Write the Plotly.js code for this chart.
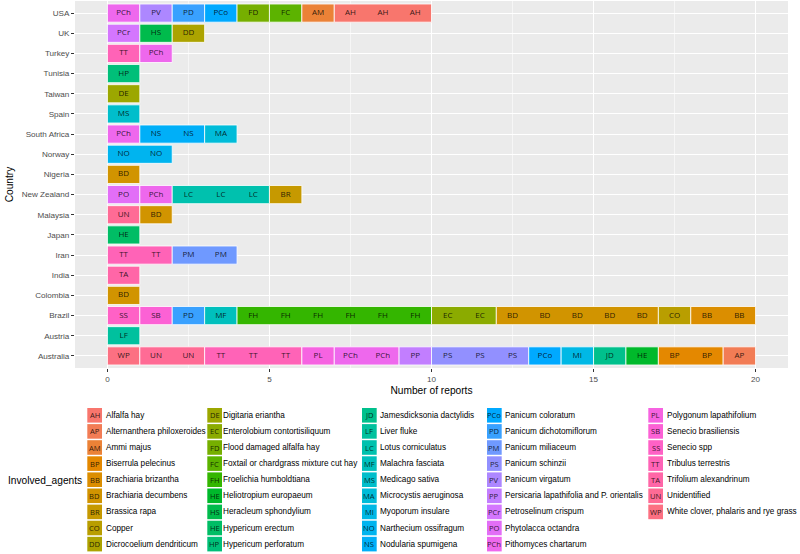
<!DOCTYPE html>
<html>
<head>
<meta charset="utf-8">
<script src="https://cdn.plot.ly/plotly-3.0.1.min.js"></script>
<style>html,body{margin:0;padding:0;background:#fff;}#chart{width:800px;height:554px;}</style>
</head>
<body>
<div id="chart"></div>
<script>
// ---- Data ----
const agentKeys = ['AH','AP','AM','BP','BB','BD','BR','CO','DD',
  'DE','EC','FD','FC','FH','HEu','HS','HEr','HP',
  'JD','LF','LC','MF','MS','MA','MI','NO','NS',
  'PCo','PD','PM','PS','PV','PP','PCr','PO','PCh',
  'PL','SB','SS','TT','TA','UN','WP'];
const agentAbbr = ['AH','AP','AM','BP','BB','BD','BR','CO','DD',
  'DE','EC','FD','FC','FH','HE','HS','HE','HP',
  'JD','LF','LC','MF','MS','MA','MI','NO','NS',
  'PCo','PD','PM','PS','PV','PP','PCr','PO','PCh',
  'PL','SB','SS','TT','TA','UN','WP'];
const agentNames = ['Alfalfa hay','Alternanthera philoxeroides','Ammi majus','Biserrula pelecinus','Brachiaria brizantha','Brachiaria decumbens','Brassica rapa','Copper','Dicrocoelium dendriticum',
  'Digitaria eriantha','Enterolobium contortisiliquum','Flood damaged alfalfa hay','Foxtail or chardgrass mixture cut hay','Froelichia humboldtiana','Heliotropium europaeum','Heracleum sphondylium','Hypericum erectum','Hypericum perforatum',
  'Jamesdicksonia dactylidis','Liver fluke','Lotus corniculatus','Malachra fasciata','Medicago sativa','Microcystis aeruginosa','Myoporum insulare','Narthecium ossifragum','Nodularia spumigena',
  'Panicum coloratum','Panicum dichotomiflorum','Panicum miliaceum','Panicum schinzii','Panicum virgatum','Persicaria lapathifolia and P. orientalis','Petroselinum crispum','Phytolacca octandra','Pithomyces chartarum',
  'Polygonum lapathifolium','Senecio brasiliensis','Senecio spp','Tribulus terrestris','Trifolium alexandrinum','Unidentified','White clover, phalaris and rye grass'];

// countries bottom -> top
const countries = ['Australia','Austria','Brazil','Colombia','India','Iran','Japan','Malaysia','New Zealand','Nigeria','Norway','South Africa','Spain','Taiwan','Tunisia','Turkey','UK','USA'];
// one entry per report, left to right, aligned with countries
const reports = [
  ['WP','UN','UN','TT','TT','TT','PL','PCh','PCh','PP','PS','PS','PS','PCo','MI','JD','HEu','BP','BP','AP'],
  ['LF'],
  ['SS','SB','PD','MF','FH','FH','FH','FH','FH','FH','EC','EC','BD','BD','BD','BD','BD','CO','BB','BB'],
  ['BD'],
  ['TA'],
  ['TT','TT','PM','PM'],
  ['HEr'],
  ['UN','BD'],
  ['PO','PCh','LC','LC','LC','BR'],
  ['BD'],
  ['NO','NO'],
  ['PCh','NS','NS','MA'],
  ['MS'],
  ['DE'],
  ['HP'],
  ['TT','PCh'],
  ['PCr','HS','DD'],
  ['PCh','PV','PD','PCo','FD','FC','AM','AH','AH','AH']
];
const xTicks = [0,5,10,15,20];

// ---- Styling helpers ----
function hcl2hex(h, c, l) {
  const hr = h * Math.PI / 180;
  const U = c * Math.cos(hr), V = c * Math.sin(hr);
  const Xn = 0.95047, Yn = 1.0, Zn = 1.08883;
  const Y = l > 8 ? Math.pow((l + 16) / 116, 3) : l / 903.3;
  const den = Xn + 15 * Yn + 3 * Zn;
  const un = 4 * Xn / den, vn = 9 * Yn / den;
  const u = U / (13 * l) + un, v = V / (13 * l) + vn;
  const X = 9 * Y * u / (4 * v);
  const Z = -X / 3 - 5 * Y + 3 * Y / v;
  let r = 3.240479 * X - 1.537150 * Y - 0.498535 * Z;
  let g = -0.969256 * X + 1.875992 * Y + 0.041556 * Z;
  let b = 0.055648 * X - 0.204043 * Y + 1.057311 * Z;
  const gam = t => { t = t <= 0.0031308 ? 12.92 * t : 1.055 * Math.pow(t, 1 / 2.4) - 0.055; return Math.round(Math.max(0, Math.min(1, t)) * 255); };
  return '#' + [gam(r), gam(g), gam(b)].map(n => n.toString(16).padStart(2, '0')).join('');
}
const nAg = agentKeys.length;
const agentColors = agentKeys.map((k, i) => hcl2hex(15 + 360 * i / nAg, 100, 65));
const colorOf = k => agentColors[agentKeys.indexOf(k)];
const abbrOf = k => agentAbbr[agentKeys.indexOf(k)];

// ---- Build runs and labels ----
const runY = [], runX = [], runBase = [], runCol = [];
const labX = [], labY = [], labT = [];
countries.forEach((c, ci) => {
  const list = reports[ci];
  let i = 0;
  while (i < list.length) {
    let j = i;
    while (j < list.length && list[j] === list[i]) j++;
    runY.push(c); runX.push(j - i); runBase.push(i); runCol.push(colorOf(list[i]));
    i = j;
  }
  list.forEach((k, u) => { labX.push(u + 0.5); labY.push(c); labT.push(abbrOf(k)); });
});

const FONT = 'Liberation Sans, Arial, Helvetica, sans-serif';
const LABFONT = 'Open Sans, sans-serif';
const LABCOL = 'rgba(0,0,0,0.8)';
const M = {l: 75, r: 12, t: 1, b: 186};
const W = 800, H = 554;
const pw = W - M.l - M.r, ph = H - M.t - M.b;
const px = x => (x - M.l) / pw;
const py = y => 1 - (y - M.t) / ph;

const traces = [
  {
    type: 'bar', orientation: 'h', y: runY, x: runX, base: runBase, width: 0.9,
    marker: {color: runCol, line: {color: '#ffffff', width: 0.8}},
    hoverinfo: 'skip', showlegend: false
  },
  {
    type: 'scatter', mode: 'text', x: labX, y: labY, text: labT,
    textposition: 'middle center',
    textfont: {family: LABFONT, size: 8, color: LABCOL},
    hoverinfo: 'skip', showlegend: false, cliponaxis: false
  }
];

// ---- Manual legend ----
const shapes = [], annotations = [];
const colKeyX = [87.3, 207.3, 362, 487, 648.3];
const colTxtX = [104.5, 222.3, 378.8, 503.8, 665.5];
const row0 = 415.3, rowStep = 16.1, perCol = 9;
agentKeys.forEach((k, i) => {
  const col = Math.floor(i / perCol), row = i % perCol;
  const cy = row0 + row * rowStep;
  const kx = colKeyX[col];
  shapes.push({type: 'rect', xref: 'paper', yref: 'paper',
    x0: px(kx), x1: px(kx + 14.7), y0: py(cy + 7.3), y1: py(cy - 7.3),
    fillcolor: agentColors[i], line: {width: 0}, layer: 'above'});
  annotations.push({xref: 'paper', yref: 'paper', x: px(kx + 7.35), y: py(cy),
    xanchor: 'center', yanchor: 'middle', showarrow: false, text: agentAbbr[i],
    font: {family: LABFONT, size: 7.6, color: LABCOL}});
  annotations.push({xref: 'paper', yref: 'paper', x: px(colTxtX[col]), y: py(cy),
    xanchor: 'left', yanchor: 'middle', showarrow: false, text: agentNames[i],
    borderpad: 0, font: {family: FONT, size: 8.2, color: '#000000'}});
});
annotations.push({xref: 'paper', yref: 'paper', x: px(7), y: py(480),
  xanchor: 'left', yanchor: 'middle', showarrow: false, text: 'Involved_agents',
  borderpad: 0, font: {family: FONT, size: 10.2, color: '#000000'}});

const layout = {
  width: W, height: H,
  margin: M,
  paper_bgcolor: '#ffffff', plot_bgcolor: '#EBEBEB',
  showlegend: false,
  barmode: 'overlay',
  font: {family: FONT, color: '#000'},
  xaxis: {
    range: [-1, 21], tickmode: 'array', tickvals: xTicks, ticktext: xTicks.map(String),
    showgrid: true, gridcolor: '#ffffff', gridwidth: 1.07, zeroline: false,
    minor: {dtick: 2.5, tick0: 0, showgrid: true, gridcolor: '#ffffff', gridwidth: 0.53, ticklen: 0},
    ticks: 'outside', ticklen: 3, tickwidth: 1, tickcolor: '#333333',
    tickfont: {family: FONT, size: 8.1, color: '#4d4d4d'},
    title: {text: 'Number of reports', font: {family: FONT, size: 10.2, color: '#000'}, standoff: 4},
    showline: false, fixedrange: true
  },
  yaxis: {
    type: 'category', categoryorder: 'array', categoryarray: countries,
    range: [-0.6, countries.length - 0.4],
    showgrid: true, gridcolor: '#ffffff', gridwidth: 1.07, zeroline: false,
    ticks: 'outside', ticklen: 3, tickwidth: 1, tickcolor: '#333333',
    tickfont: {family: FONT, size: 8.1, color: '#4d4d4d'},
    title: {text: 'Country', font: {family: FONT, size: 10.2, color: '#000'}, standoff: 6},
    showline: false, fixedrange: true
  },
  shapes: shapes,
  annotations: annotations
};

Plotly.newPlot('chart', traces, layout, {displayModeBar: false, staticPlot: true});
</script>
</body>
</html>
